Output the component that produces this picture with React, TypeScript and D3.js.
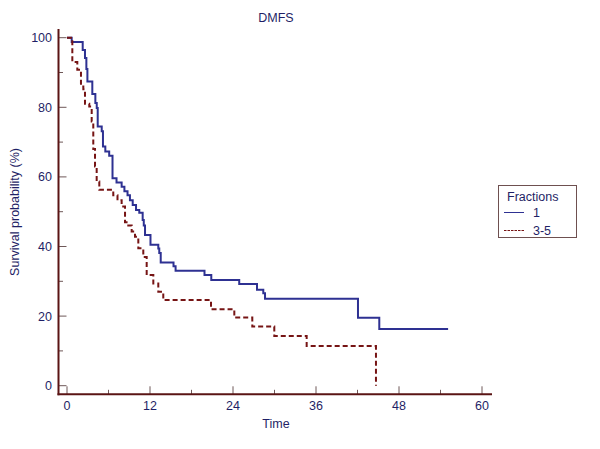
import React from "react";
import * as d3 from "d3";

const title = "DMFS";
const xLabel = "Time";
const yLabel = "Survival probability (%)";
const legendTitle = "Fractions";
const seriesNames = ["1", "3-5"];

const xMajorTicks = [0, 12, 24, 36, 48, 60];
const xMinorTicks = [6, 18, 30, 42, 54];
const yMajorTicks = [0, 20, 40, 60, 80, 100];
const yMinorTicks = [10, 30, 50, 70, 90];

// Series "1" (solid blue)
const times1 = [0, 0.68, 2.27, 2.6, 2.8, 2.95, 3.66, 4.1, 4.3, 4.44, 5.02, 5.2, 5.54, 6.1, 6.58, 7.16, 7.9, 8.3, 8.75, 9.1, 9.5, 9.98, 10.45, 10.94, 11.1, 11.28, 12.07, 13.2, 13.34, 13.55, 15.4, 15.7, 19.88, 20.86, 24.9, 27.47, 28.38, 28.63, 42.07, 45.15, 55.1];
const surv1 = [100, 98.8, 96.5, 94.2, 91.0, 87.4, 83.8, 81.2, 79.8, 74.5, 73.1, 68.7, 67.3, 66.1, 59.6, 58.4, 57.2, 55.9, 54.7, 53.3, 51.9, 50.5, 49.7, 47.6, 46.0, 43.3, 40.5, 39.4, 38.1, 35.4, 34.3, 33.0, 31.8, 30.4, 29.2, 27.6, 26.6, 25.0, 19.5, 16.3, 16.3];

// Series "3-5" (dashed dark red)
const times2 = [0, 0.77, 1.49, 2.02, 2.36, 2.6, 3.22, 3.57, 3.8, 4.05, 4.29, 4.67, 6.69, 7.3, 7.9, 8.39, 8.86, 9.35, 9.83, 10.31, 11.03, 11.52, 12.48, 13.2, 13.92, 20.82, 24.19, 26.79, 29.97, 34.65, 44.67];
const surv2 = [100, 93.0, 90.8, 86.0, 85.2, 81.0, 80.2, 75.9, 68.0, 63.0, 58.7, 56.3, 54.7, 53.3, 51.5, 47.0, 46.0, 44.3, 42.8, 39.5, 37.0, 31.8, 29.4, 27.0, 24.6, 22.0, 19.6, 17.0, 14.3, 11.4, 0];

const textColor = "#1f1f66";
const axisColor = "#5a1414";
const tickColor = "#6e5858";
const blue = "#2e3192";
const red = "#761414";
const font = "'Liberation Sans', Arial, sans-serif";

export default function App() {
  const x = d3.scaleLinear().domain([0, 60]).range([67, 482]);
  const y = d3.scaleLinear().domain([0, 100]).range([385.7, 37.7]);
  const axisY = 394.3;
  const axisX = 58.5;

  const line = d3
    .line<[number, number]>()
    .x((d) => x(d[0]))
    .y((d) => y(d[1]))
    .curve(d3.curveStepAfter);

  const pts1: [number, number][] = times1.map((t, i) => [t, surv1[i]]);
  const pts2: [number, number][] = times2.map((t, i) => [t, surv2[i]]);

  return (
    <svg
      width={600}
      height={449}
      style={{ position: "absolute", left: 0, top: 0, background: "#fff" }}
      fontFamily={font}
    >
      <rect x={0} y={0} width={600} height={449} fill="#fff" />
      {/* title */}
      <text x={276} y={21.5} textAnchor="middle" fontSize={12.5} fill={textColor}>
        {title}
      </text>

      {/* curves */}
      <path d={line(pts1) || ""} fill="none" stroke={blue} strokeWidth={2} />
      <path
        d={line(pts2) || ""}
        fill="none"
        stroke={red}
        strokeWidth={2}
        strokeDasharray="5,3"
      />

      {/* y ticks */}
      {yMajorTicks.map((v) => (
        <g key={"ym" + v}>
          <line x1={axisX} x2={axisX + 8} y1={y(v)} y2={y(v)} stroke={tickColor} strokeWidth={1} />
          <text x={52} y={y(v) + 4.5} textAnchor="end" fontSize={12.5} fill={textColor}>
            {v}
          </text>
        </g>
      ))}
      {yMinorTicks.map((v) => (
        <line key={"yn" + v} x1={axisX} x2={axisX + 4.5} y1={y(v)} y2={y(v)} stroke={tickColor} strokeWidth={1} />
      ))}

      {/* x ticks */}
      {xMajorTicks.map((v) => (
        <g key={"xm" + v}>
          <line x1={x(v)} x2={x(v)} y1={axisY} y2={axisY - 8} stroke={tickColor} strokeWidth={1} />
          <text x={x(v)} y={409.5} textAnchor="middle" fontSize={12.5} fill={textColor}>
            {v}
          </text>
        </g>
      ))}
      {xMinorTicks.map((v) => (
        <line key={"xn" + v} x1={x(v)} x2={x(v)} y1={axisY} y2={axisY - 4.5} stroke={tickColor} strokeWidth={1} />
      ))}

      {/* axes */}
      <line x1={axisX} x2={axisX} y1={29} y2={axisY + 1} stroke={axisColor} strokeWidth={2} />
      <line x1={axisX - 1} x2={492} y1={axisY} y2={axisY} stroke={axisColor} strokeWidth={2} />

      {/* axis labels */}
      <text x={276} y={428} textAnchor="middle" fontSize={12.5} fill={textColor}>
        {xLabel}
      </text>
      <text
        transform={`translate(18.5, 212) rotate(-90)`}
        textAnchor="middle"
        fontSize={12.5}
        fill={textColor}
      >
        {yLabel}
      </text>

      {/* legend */}
      <rect x={498.5} y={185.5} width={78} height={52} fill="#fff" stroke="#6e5050" strokeWidth={1} />
      <text x={507} y={201} fontSize={12.5} fill={textColor}>
        {legendTitle}
      </text>
      <line x1={504} x2={524} y1={212.5} y2={212.5} stroke={blue} strokeWidth={1} />
      <text x={533} y={217} fontSize={12.5} fill={textColor}>
        {seriesNames[0]}
      </text>
      <line x1={504} x2={524} y1={230.5} y2={230.5} stroke={red} strokeWidth={1} strokeDasharray="2.5,1" />
      <text x={533} y={234.5} fontSize={12.5} fill={textColor}>
        {seriesNames[1]}
      </text>
    </svg>
  );
}
